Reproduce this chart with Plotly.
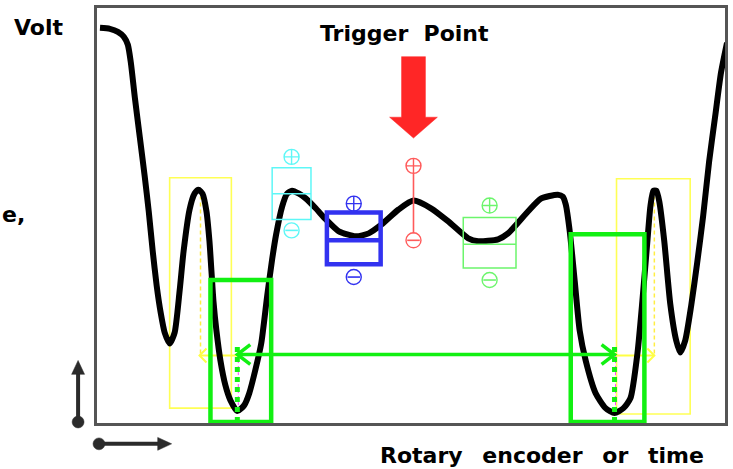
import plotly.graph_objects as go

# ---------------- data (encoder units on x, volt units on y) ----------------
curve_x = [3, 13, 21, 27, 31, 34, 38, 43, 48, 52, 56, 60, 64, 68, 73, 78, 83, 87, 93, 98,
           102, 106, 110, 113, 115, 117, 120, 124, 129, 134, 141, 148, 153, 159, 165, 171,
           176, 180, 186, 191, 196, 203, 210, 220, 230, 243, 260, 273, 286, 303, 318, 336,
           353, 373, 383, 403, 413, 433, 446, 463, 468, 471, 475, 480, 485, 491, 501, 511,
           520, 529, 536, 543, 548, 553, 556, 559, 562, 565, 570, 576, 582, 586, 591, 597,
           603, 609, 615, 621, 627, 633]
curve_y = [398, 397, 394, 389, 381, 363, 328, 288, 248, 213, 173, 138, 111, 91, 80, 91, 133,
           173, 215, 231, 235, 231, 213, 183, 153, 123, 93, 63, 38, 23, 12, 18, 30, 53, 80,
           128, 165, 190, 218, 231, 234, 231, 226, 216, 205, 193, 188, 191, 200, 215, 224,
           216, 203, 186, 183, 185, 191, 213, 226, 230, 228, 220, 193, 143, 93, 63, 30, 15,
           10, 15, 25, 70, 123, 183, 218, 234, 234, 223, 183, 120, 83, 71, 83, 118, 161, 208,
           263, 308, 353, 383]

x_range = [0, 631]
y_range = [0, 418]

# yellow windows (x0, x1, y0, y1)
yellow_boxes = [(73, 135, 15, 247), (522, 596, 9, 246)]
yellow_peak_x = [104, 560]
yellow_dash_y = (70, 228)
yellow_arrow = [(141, 103), (520, 560)]   # (from, to)
yellow_arrow_y = 68

# green windows
green_boxes = [(114, 175, 1, 144), (476, 550, 1, 190)]
green_min_x = [141, 520]
green_dot_y = (1, 78)
green_arrow_y = 69

# level boxes: (x0, x1, y_bottom, y_mid, y_top, plus_y, minus_y, color, width)
level_boxes = [
    (176, 215, 205, 231, 257, 268, 194, "#5ef7f7", 1.5),
    (231, 285, 160, 184, 212, 221, 147, "#3232f0", 4.5),
    (368, 421, 156, 180, 207, 219, 144, "#6cf56c", 1.5),
]
trigger_x = 318
trigger_line = (191, 251)
trigger_plus_y = 259
trigger_minus_y = 184

# trigger arrow (x centre, shaft top, shaft bottom, tip)
arrow_cx, arrow_top, arrow_base, arrow_tip = 318, 369, 308, 287

fig = go.Figure()

# helper: paper coords from figure pixels (decorations outside the plot)
L, T, W, H = 97, 5, 631, 418
def px(x):
    return (x - L) / W
def py(y):
    return (T + H - y) / H

shapes = []

# yellow boxes, dashed peak lines, arrows
for (x0, x1, y0, y1) in yellow_boxes:
    shapes.append(dict(type="rect", xref="x", yref="y", x0=x0, x1=x1, y0=y0, y1=y1,
                       line=dict(color="#ffff55", width=1.6), layer="below"))
for xv in yellow_peak_x:
    fig.add_trace(go.Scatter(x=[xv, xv], y=list(yellow_dash_y), mode="lines",
                             line=dict(color="#ffee44", width=1.5, dash="4px,3px"),
                             hoverinfo="skip", showlegend=False))
for (xa, xb) in yellow_arrow:
    d = 1 if xb > xa else -1
    fig.add_trace(go.Scatter(x=[xa, xb], y=[yellow_arrow_y] * 2, mode="lines",
                             line=dict(color="#ffff44", width=2), hoverinfo="skip", showlegend=False))
    fig.add_trace(go.Scatter(x=[xb - 7 * d, xb, xb - 7 * d],
                             y=[yellow_arrow_y + 7, yellow_arrow_y, yellow_arrow_y - 7],
                             mode="lines", line=dict(color="#ffff44", width=2),
                             hoverinfo="skip", showlegend=False))

# level boxes
for (x0, x1, yb, ym, yt, yp, yn, col, lw) in level_boxes:
    shapes.append(dict(type="rect", xref="x", yref="y", x0=x0, x1=x1, y0=yb, y1=yt,
                       line=dict(color=col, width=lw)))
    shapes.append(dict(type="line", xref="x", yref="y", x0=x0, x1=x1, y0=ym, y1=ym,
                       line=dict(color=col, width=lw)))

# trigger level line
shapes.append(dict(type="line", xref="x", yref="y", x0=trigger_x, x1=trigger_x,
                   y0=trigger_line[0], y1=trigger_line[1], line=dict(color="#ff5a5a", width=1.6)))

# magenta hint lines under the green dotted ones
for xv in green_min_x:
    fig.add_trace(go.Scatter(x=[xv + 1, xv + 1], y=[12, 72], mode="lines",
                             line=dict(color="#ff44ff", width=1, dash="3px,3px"),
                             hoverinfo="skip", showlegend=False))

# the signal curve
fig.add_trace(go.Scatter(x=curve_x, y=curve_y, mode="lines",
                         line=dict(color="black", width=6, shape="spline", smoothing=0.6),
                         hoverinfo="skip", showlegend=False))

# green windows
for (x0, x1, y0, y1) in green_boxes:
    shapes.append(dict(type="rect", xref="x", yref="y", x0=x0, x1=x1, y0=y0, y1=y1,
                       line=dict(color="#12f012", width=4.5)))
for xv in green_min_x:
    fig.add_trace(go.Scatter(x=[xv, xv], y=list(green_dot_y), mode="lines",
                             line=dict(color="#12f012", width=5, dash="5px,5px"),
                             hoverinfo="skip", showlegend=False))
# green double arrow
gx0, gx1 = green_min_x
fig.add_trace(go.Scatter(x=[gx0, gx1], y=[green_arrow_y] * 2, mode="lines",
                         line=dict(color="#12f012", width=3.5), hoverinfo="skip", showlegend=False))
for (xe, d) in [(gx0, -1), (gx1, 1)]:
    fig.add_trace(go.Scatter(x=[xe - 13 * d, xe, xe - 13 * d],
                             y=[green_arrow_y + 10, green_arrow_y, green_arrow_y - 10],
                             mode="lines", line=dict(color="#12f012", width=3.5),
                             hoverinfo="skip", showlegend=False))

# plus / minus symbols
sym_x, sym_y, sym_c = [], [], []
min_x, min_y, min_c = [], [], []
for (x0, x1, yb, ym, yt, yp, yn, col, lw) in level_boxes:
    xc = (x0 + x1) / 2
    sym_x.append(xc); sym_y.append(yp); sym_c.append(col)
    min_x.append(xc); min_y.append(yn); min_c.append(col)
sym_x.append(trigger_x); sym_y.append(trigger_plus_y); sym_c.append("#ff5a5a")
min_x.append(trigger_x); min_y.append(trigger_minus_y); min_c.append("#ff5a5a")
fig.add_trace(go.Scatter(x=sym_x, y=sym_y, mode="markers",
                         marker=dict(symbol="circle-cross-open", size=15, color=sym_c,
                                     line=dict(width=1.4, color=sym_c)),
                         hoverinfo="skip", showlegend=False))
fig.add_trace(go.Scatter(x=min_x, y=min_y, mode="markers",
                         marker=dict(symbol="circle-open", size=15, color=min_c,
                                     line=dict(width=1.4, color=min_c)),
                         hoverinfo="skip", showlegend=False))
fig.add_trace(go.Scatter(x=min_x, y=min_y, mode="markers",
                         marker=dict(symbol="line-ew", size=9, color=min_c,
                                     line=dict(width=1.6, color=min_c)),
                         hoverinfo="skip", showlegend=False))

# red trigger arrow
sw, hw = 12, 24
fig.add_trace(go.Scatter(
    x=[arrow_cx - sw, arrow_cx + sw, arrow_cx + sw, arrow_cx + hw, arrow_cx,
       arrow_cx - hw, arrow_cx - sw, arrow_cx - sw],
    y=[arrow_top, arrow_top, arrow_base, arrow_base, arrow_tip, arrow_base, arrow_base, arrow_top],
    mode="lines", fill="toself", fillcolor="#ff2626", line=dict(color="#ff2626", width=0.5),
    hoverinfo="skip", showlegend=False))

# axis indicator arrows (outside plot, paper coords)
ind_col = "#2b2b2b"
shapes += [
    dict(type="line", xref="paper", yref="paper", x0=px(78), x1=px(78), y0=py(422), y1=py(372),
         line=dict(color=ind_col, width=4)),
    dict(type="path", xref="paper", yref="paper",
         path=f"M {px(71.5)} {py(374)} L {px(84.5)} {py(374)} L {px(78)} {py(360)} Z",
         fillcolor=ind_col, line=dict(color=ind_col, width=0.5)),
    dict(type="circle", xref="paper", yref="paper", x0=px(72), x1=px(84), y0=py(416), y1=py(428),
         fillcolor=ind_col, line=dict(color=ind_col, width=0.5)),
    dict(type="line", xref="paper", yref="paper", x0=px(99), x1=px(160), y0=py(444), y1=py(444),
         line=dict(color=ind_col, width=4)),
    dict(type="path", xref="paper", yref="paper",
         path=f"M {px(158)} {py(437.5)} L {px(158)} {py(450.5)} L {px(172)} {py(444)} Z",
         fillcolor=ind_col, line=dict(color=ind_col, width=0.5)),
    dict(type="circle", xref="paper", yref="paper", x0=px(93), x1=px(105), y0=py(438), y1=py(450),
         fillcolor=ind_col, line=dict(color=ind_col, width=0.5)),
]

font_b = dict(family="DejaVu Sans", size=22, color="black")
nb = "\u00a0"
sp = nb + nb + "\u2009"
annotations = [
    dict(text="<b>Volt</b>", xref="paper", yref="paper", x=px(38), y=py(25),
         xanchor="center", yanchor="middle", showarrow=False, font=font_b),
    dict(text=f"<b>Trigger{nb}{nb}Point</b>", xref="paper", yref="paper", x=px(406), y=py(31),
         xanchor="center", yanchor="middle", showarrow=False, font=font_b),
    dict(text=f"<b>Rotary{sp}encoder{sp}or{sp}time</b>", xref="paper",
         yref="paper", x=px(379), y=py(456), xanchor="left", yanchor="middle",
         showarrow=False, font=font_b),
    dict(text="<b>e,</b>", xref="paper", yref="paper", x=px(0), y=py(213),
         xanchor="left", yanchor="middle", showarrow=False, font=font_b),
]

fig.update_layout(
    width=733, height=469,
    margin=dict(l=L, r=733 - L - W, t=T, b=469 - T - H),
    paper_bgcolor="white", plot_bgcolor="white",
    shapes=shapes, annotations=annotations,
    xaxis=dict(range=x_range, showgrid=False, zeroline=False, showticklabels=False, ticks="",
               showline=True, mirror=True, linecolor="#555555", linewidth=2.5, fixedrange=True),
    yaxis=dict(range=y_range, showgrid=False, zeroline=False, showticklabels=False, ticks="",
               showline=True, mirror=True, linecolor="#555555", linewidth=2.5, fixedrange=True),
)

fig.write_html("out.html", config={"displayModeBar": False},
               post_script="document.body.style.margin='0';")
